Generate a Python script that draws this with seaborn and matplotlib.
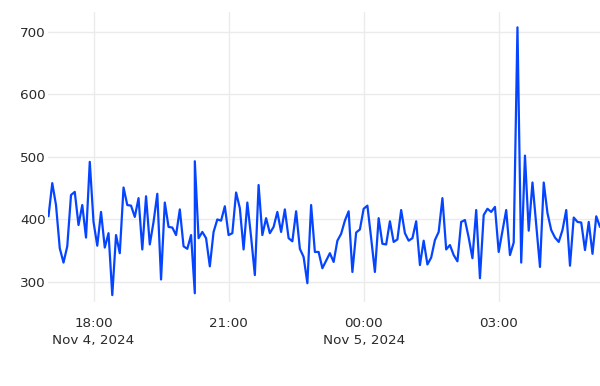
import numpy as np
import pandas as pd
import matplotlib
matplotlib.use("Agg")
import matplotlib.pyplot as plt
import seaborn as sns

# ---- data (5-minute samples, Nov 4 17:00 -> Nov 5 05:15) ----
start_time = "2024-11-04 17:00"
n_steps = 148
values = [
    405, 458, 423, 354, 331, 357, 439, 444, 391, 423,
    371, 492, 396, 358, 412, 355, 378, 279, 375, 346,
    451, 423, 422, 404, 434, 352, 437, 360, 396, 441,
    304, 427, 388, 387, 375, 416, 357, 353, 375, 282,
    493, 370, 380, 370, 325, 380, 400, 398, 421, 375,
    378, 443, 418, 352, 427, 372, 311, 455, 375, 402,
    378, 388, 412, 380, 416, 370, 365, 413, 353, 340,
    298, 423, 348, 348, 322, 334, 346, 332, 366, 377,
    398, 413, 316, 379, 384, 417, 422, 370, 316, 402,
    361, 360, 397, 364, 368, 415, 378, 366, 370, 397,
    327, 366, 328, 339, 367, 380, 434, 352, 359, 343,
    333, 396, 399, 371, 338, 415, 306, 407, 417, 412,
    420, 348, 382, 415, 343, 363, 707, 331, 502, 382,
    459, 391, 324, 459, 410, 383, 371, 364, 383, 415,
    326, 403, 396, 395, 351, 396, 345, 405, 388,
]
dup_index = 39  # two readings share the 20:15 timestamp

x_ticks = ["2024-11-04 18:00", "2024-11-04 21:00", "2024-11-05 00:00", "2024-11-05 03:00"]
x_tick_labels = ["18:00\nNov 4, 2024", "21:00", "00:00\nNov 5, 2024", "03:00"]
y_ticks = [300, 400, 500, 600, 700]

times = list(pd.date_range(start_time, periods=n_steps, freq="5min"))
times.insert(dup_index, times[dup_index])
df = pd.DataFrame({"time": times, "value": values})

sns.set_theme(style="white")
plt.rcParams["font.family"] = ["DejaVu Sans"]

fig = plt.figure(figsize=(6.0, 3.86), dpi=100)
ax = fig.add_axes([48.5 / 600, (386 - 302) / 386, 1 - 48.5 / 600, (302 - 11.7) / 386])

sns.lineplot(data=df, x="time", y="value", ax=ax, estimator=None, sort=False,
             color="#0645ff", linewidth=1.6, zorder=3)

ax.set_xlim(df["time"].iloc[0], df["time"].iloc[-1])
ax.set_ylim(268, 732)

ax.set_xticks(pd.to_datetime(x_ticks))
ax.set_xticklabels(x_tick_labels, linespacing=1.35)
ax.set_yticks(y_ticks)
ax.set_yticklabels([str(v) for v in y_ticks])

ax.grid(True, color="#ebebeb", linewidth=1.0, zorder=0)
for s in ax.spines.values():
    s.set_visible(False)
ax.tick_params(axis="both", length=0, labelsize=9.7, colors="#2a2a2a")
ax.tick_params(axis="x", pad=11)
ax.tick_params(axis="y", pad=2)
ax.set_xlabel("")
ax.set_ylabel("")

fig.savefig("out.png", dpi=100)
